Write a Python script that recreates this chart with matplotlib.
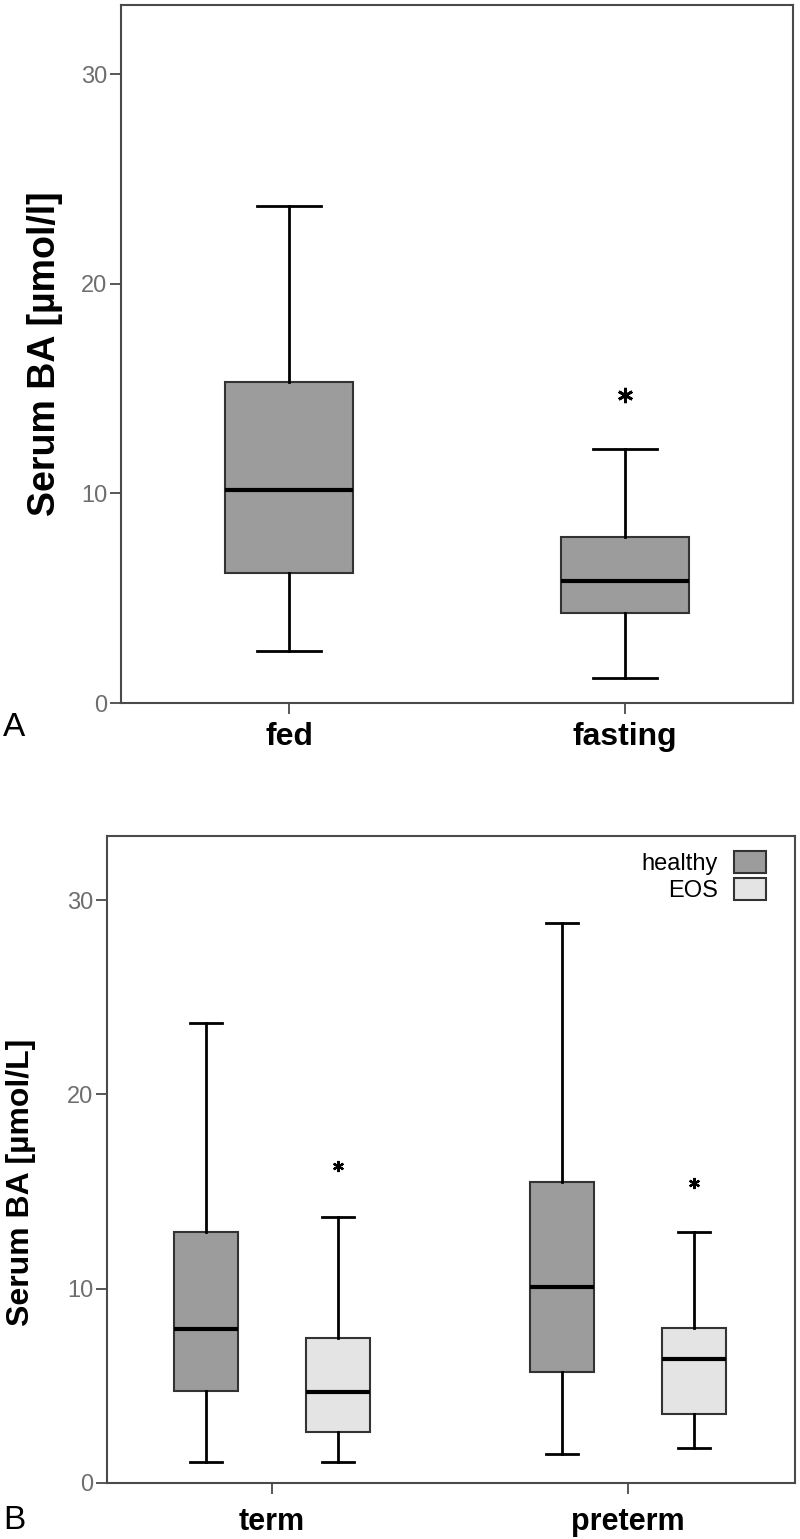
import numpy as np
import matplotlib
matplotlib.use('Agg')
import matplotlib.pyplot as plt
from matplotlib.patches import Patch

plt.rcParams['font.family'] = ['Liberation Sans', 'DejaVu Sans']

# Panel A: fed vs fasting
a_groups = ['fed', 'fasting']
a_whislo = [2.5, 1.2]
a_q1 = [6.2, 4.3]
a_med = [10.15, 5.8]
a_q3 = [15.3, 7.9]
a_whishi = [23.7, 12.1]
a_fliers = [[], [14.7]]

# Panel B: term / preterm, healthy vs EOS
b_groups = ['term', 'preterm']
b_series = ['healthy', 'EOS']
b_whislo = {'healthy': [1.1, 1.5], 'EOS': [1.1, 1.8]}
b_q1 = {'healthy': [4.75, 5.7], 'EOS': [2.6, 3.55]}
b_med = {'healthy': [7.9, 10.1], 'EOS': [4.7, 6.4]}
b_q3 = {'healthy': [12.9, 15.5], 'EOS': [7.45, 8.0]}
b_whishi = {'healthy': [23.7, 28.8], 'EOS': [13.7, 12.9]}
b_fliers = {'healthy': [[], []], 'EOS': [[16.3], [15.45]]}

colors = {'healthy': '#9c9c9c', 'EOS': '#e4e4e4'}
spine_col = '#4a4a4a'
tick_col = '#6e6e6e'


def make_stats(lo, q1, med, q3, hi, fl):
    return [dict(whislo=lo[i], q1=q1[i], med=med[i], q3=q3[i], whishi=hi[i],
                 fliers=fl[i]) for i in range(len(med))]


def style_axis(ax, xlim):
    ax.set_ylim(0, 33.3)
    ax.set_xlim(*xlim)
    ax.set_yticks([0, 10, 20, 30])
    for s in ax.spines.values():
        s.set_color(spine_col)
        s.set_linewidth(1.5)
    ax.tick_params(axis='y', direction='out', length=8, width=1.3,
                   color=spine_col, labelcolor=tick_col, labelsize=17, pad=2)
    ax.tick_params(axis='x', direction='out', length=8, width=1.3,
                   color=spine_col)


fig = plt.figure(figsize=(8, 15.39), dpi=100)

# ---- Panel A ----
ax1 = fig.add_axes([0.15125, 0.5432, 0.84, 0.4535])
stats = make_stats(a_whislo, a_q1, a_med, a_q3, a_whishi, a_fliers)
ax1.bxp(stats, positions=[0, 1], widths=0.38, patch_artist=True,
        boxprops=dict(facecolor=colors['healthy'], edgecolor='#333333', linewidth=1.5),
        medianprops=dict(color='black', linewidth=3),
        whiskerprops=dict(color='black', linewidth=2),
        capprops=dict(color='black', linewidth=2),
        flierprops=dict(marker=(6, 2, 0), markersize=11, markeredgewidth=2,
                        markeredgecolor='black', color='black'))
style_axis(ax1, (-0.5, 1.5))
ax1.set_xticks([0, 1])
ax1.set_xticklabels(a_groups, fontsize=23, fontweight='bold')
ax1.tick_params(axis='x', pad=6)
fig.text(0.056, 0.77, 'Serum BA [µmol/l]', rotation=90, ha='center', va='center',
         fontsize=27, fontweight='bold')
fig.text(0.004, 0.527, 'A', fontsize=24, ha='left', va='center')

# ---- Panel B ----
ax2 = fig.add_axes([0.13375, 0.0364, 0.86, 0.4204])
off = 0.185
for k, name in enumerate(b_series):
    pos = np.arange(len(b_groups)) + (-off if k == 0 else off)
    stats = make_stats(b_whislo[name], b_q1[name], b_med[name], b_q3[name],
                       b_whishi[name], b_fliers[name])
    ax2.bxp(stats, positions=pos, widths=0.18, patch_artist=True,
            boxprops=dict(facecolor=colors[name], edgecolor='#333333', linewidth=1.5),
            medianprops=dict(color='black', linewidth=3),
            whiskerprops=dict(color='black', linewidth=2),
            capprops=dict(color='black', linewidth=2),
            flierprops=dict(marker=(6, 2, 0), markersize=8, markeredgewidth=1.6,
                            markeredgecolor='black', color='black'))
style_axis(ax2, (-0.463, 1.47))
ax2.set_xticks([0, 1])
ax2.set_xticklabels(b_groups, fontsize=22, fontweight='bold')
ax2.tick_params(axis='x', pad=9)
fig.text(0.026, 0.232, 'Serum BA [µmol/L]', rotation=90, ha='center', va='center',
         fontsize=23, fontweight='bold')
fig.text(0.004, 0.012, 'B', fontsize=24, ha='left', va='center')

handles = [Patch(facecolor=colors[n], edgecolor='#333333', linewidth=1.5) for n in b_series]
ax2.legend(handles, b_series, loc='upper right', bbox_to_anchor=(0.958, 0.977),
           frameon=False, markerfirst=False,
           fontsize=17, handlelength=1.35, handleheight=1.05, labelspacing=0.12,
           handletextpad=0.7, borderaxespad=0.0, borderpad=0.0)

fig.savefig('out.png', dpi=100)
